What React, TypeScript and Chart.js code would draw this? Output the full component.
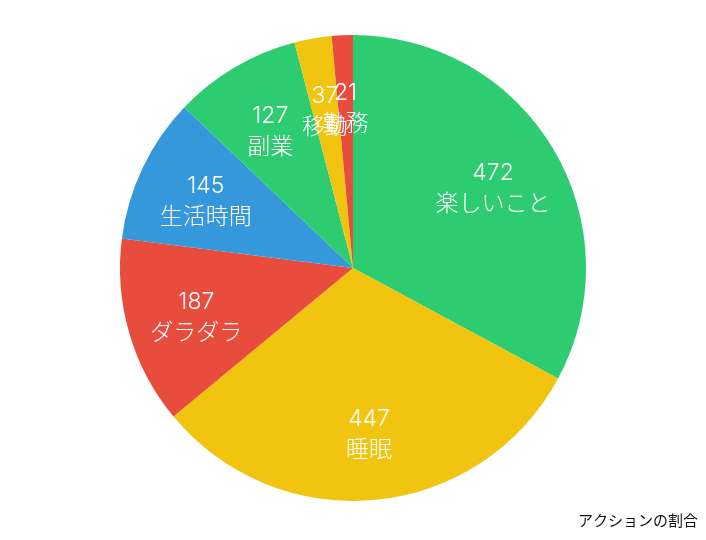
import React, { useEffect, useRef } from "react";
import { Chart, registerables } from "chart.js";

Chart.register(...registerables);

const categories = ["楽しいこと", "睡眠", "ダラダラ", "生活時間", "副業", "移動", "勤務"];
const values = [472, 447, 187, 145, 127, 37, 21];
const colors = ["#2ecc71", "#f1c40f", "#e74c3c", "#3498db", "#2ecc71", "#f1c40f", "#e74c3c"];
const titleText = "アクションの割合";

const labelPlugin = {
  id: "sliceLabels",
  afterDatasetsDraw(chart: any) {
    const ctx = chart.ctx;
    const meta = chart.getDatasetMeta(0);
    ctx.save();
    ctx.fillStyle = "#ffffff";
    ctx.textAlign = "center";
    ctx.textBaseline = "middle";
    ctx.font = "300 23px Inter, 'Noto Sans CJK JP', sans-serif";
    meta.data.forEach((arc: any, i: number) => {
      const p = arc.getProps(["startAngle", "endAngle", "outerRadius", "x", "y"], true);
      const mid = (p.startAngle + p.endAngle) / 2;
      const r = p.outerRadius * 0.7;
      const x = p.x + Math.cos(mid) * r;
      const y = p.y + Math.sin(mid) * r + 4;
      ctx.fillText(String(values[i]), x, y - 15.5);
      ctx.fillText(categories[i], x, y + 15.5);
    });
    ctx.restore();
  },
};

export default function App() {
  const ref = useRef<HTMLCanvasElement | null>(null);
  useEffect(() => {
    if (!ref.current) return;
    const chart = new Chart(ref.current, {
      type: "pie",
      data: {
        labels: categories,
        datasets: [
          {
            data: values,
            backgroundColor: colors,
            borderWidth: 0,
          },
        ],
      },
      options: {
        animation: false,
        responsive: true,
        maintainAspectRatio: false,
        layout: { padding: { top: 27 } },
        plugins: {
          legend: { display: false },
          tooltip: { enabled: false },
          title: {
            display: true,
            text: titleText,
            position: "bottom",
            align: "end",
            color: "#111",
            font: { size: 15, weight: "normal", family: "'Noto Sans CJK JP', sans-serif" },
            padding: 10,
          },
        },
      },
      plugins: [labelPlugin],
    });
    return () => chart.destroy();
  }, []);
  return (
    <div style={{ width: 690, height: 531, position: "relative" }}>
      <canvas ref={ref} />
    </div>
  );
}
